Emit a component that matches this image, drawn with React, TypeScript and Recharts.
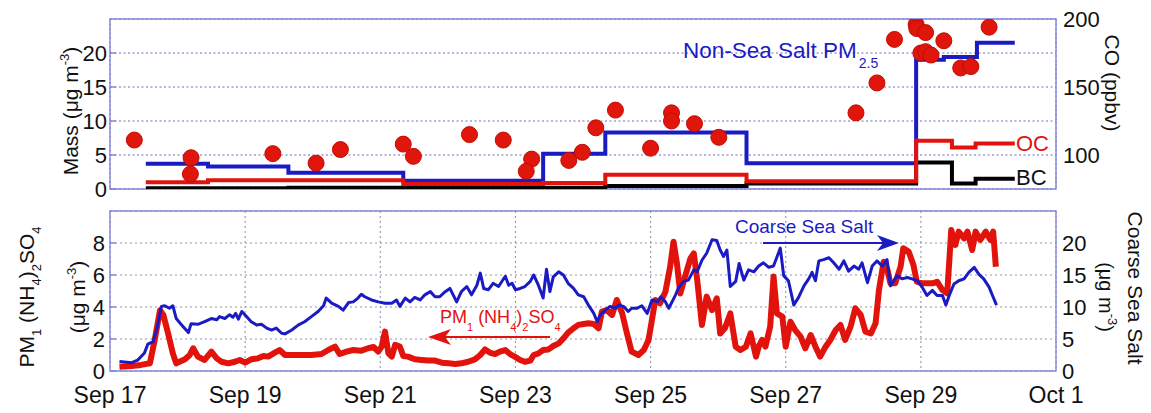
import React from "react";
import {
  ComposedChart,
  Line,
  Scatter,
  XAxis,
  YAxis,
  CartesianGrid,
  ReferenceArea,
} from "recharts";

// ---------- DATA (x = days since Sep 17 00:00) ----------
const dayTicksTop = [0, 1, 2, 3, 4, 5, 6, 7, 8, 9, 10, 11, 12, 13, 14];
const dayTicksBottom = [0, 2, 4, 6, 8, 10, 12, 14];
const bottomTickLabels = ["Sep 17", "Sep 19", "Sep 21", "Sep 23", "Sep 25", "Sep 27", "Sep 29", "Oct 1"];
const massTicks = [0, 5, 10, 15, 20];
const coTicks = [100, 150, 200];
const sulfTicks = [0, 2, 4, 6, 8];
const seaSaltTicks = [0, 5, 10, 15, 20];

// Non-sea-salt PM2.5 (step, ug m-3)
const nssDays = [0.53, 1.45, 2.64, 4.34, 6.41, 7.33, 9.42, 11.93, 12.34, 12.83, 13.39];
const nssVals = [3.7, 3.3, 2.4, 1.2, 5.2, 8.3, 3.8, 19.0, 19.4, 21.5, 21.5];
// OC (step)
const ocDays = [0.53, 1.45, 4.34, 6.41, 7.33, 9.42, 11.93, 12.46, 12.81, 13.39];
const ocVals = [1.0, 1.3, 0.75, 0.9, 2.1, 1.15, 7.1, 6.1, 6.7, 6.7];
// BC (step)
const bcDays = [0.53, 2.64, 7.33, 9.42, 11.93, 12.46, 12.81, 13.39];
const bcVals = [0.1, 0.2, 0.45, 0.8, 3.9, 0.8, 1.5, 1.5];
// CO dots (ppbv)
const coDays = [0.36, 1.2, 1.19, 2.41, 3.05, 3.41, 4.34, 4.49, 5.32, 5.82, 6.24, 6.16, 6.79, 6.99, 7.19, 7.48, 8.0, 8.31, 8.31, 8.65, 9.01, 11.04, 11.35, 11.61, 11.93, 11.94, 12.07, 12.0, 12.07, 12.15, 12.34, 12.59, 12.74, 13.01];
const coVals = [111, 98, 86, 101, 94, 104, 108, 99, 115, 111, 97, 88, 96, 102, 120, 133, 105, 131, 125, 123, 113, 131, 153, 185, 196, 193, 190, 175, 176, 173.5, 184, 164, 165, 194];

// Coarse sea salt (ug m-3, right axis)
const seaSaltDays = [0.14, 0.32, 0.41, 0.51, 0.56, 0.64, 0.7, 0.76, 0.81, 0.88, 0.93, 0.98, 1.06, 1.16, 1.2, 1.3, 1.4, 1.5, 1.58, 1.62, 1.7, 1.77, 1.82, 1.86, 1.9, 1.95, 2.02, 2.09, 2.17, 2.24, 2.32, 2.39, 2.46, 2.54, 2.59, 2.69, 2.79, 2.88, 2.98, 3.08, 3.16, 3.2, 3.28, 3.38, 3.45, 3.53, 3.6, 3.67, 3.72, 3.77, 3.87, 3.97, 4.07, 4.17, 4.24, 4.29, 4.37, 4.44, 4.51, 4.59, 4.66, 4.74, 4.81, 4.88, 4.96, 5.03, 5.13, 5.2, 5.28, 5.35, 5.43, 5.48, 5.53, 5.6, 5.67, 5.75, 5.85, 5.9, 5.95, 6.0, 6.07, 6.14, 6.22, 6.27, 6.34, 6.41, 6.46, 6.51, 6.56, 6.64, 6.71, 6.78, 6.86, 6.93, 7.01, 7.08, 7.16, 7.21, 7.26, 7.33, 7.4, 7.48, 7.53, 7.6, 7.67, 7.72, 7.8, 7.87, 7.95, 8.02, 8.1, 8.15, 8.22, 8.27, 8.37, 8.41, 8.49, 8.56, 8.64, 8.69, 8.76, 8.83, 8.91, 8.98, 9.03, 9.08, 9.13, 9.18, 9.26, 9.31, 9.38, 9.45, 9.53, 9.6, 9.67, 9.75, 9.82, 9.92, 9.97, 10.04, 10.12, 10.19, 10.27, 10.34, 10.39, 10.44, 10.49, 10.56, 10.64, 10.71, 10.79, 10.86, 10.93, 11.01, 11.08, 11.13, 11.21, 11.28, 11.35, 11.43, 11.5, 11.55, 11.6, 11.65, 11.72, 11.8, 11.87, 11.95, 12.02, 12.09, 12.17, 12.24, 12.32, 12.37, 12.42, 12.49, 12.56, 12.64, 12.71, 12.79, 12.86, 12.93, 13.01, 13.06, 13.12];
const seaSaltVals = [1.5, 1.3, 1.7, 2.8, 4.2, 4.6, 6.9, 10.1, 10.2, 9.8, 10.2, 8.2, 7.2, 6.0, 7.4, 7.3, 7.7, 8.2, 8.0, 8.5, 8.2, 8.8, 8.4, 9.0, 8.1, 9.3, 8.5, 7.7, 7.2, 7.3, 6.7, 6.4, 6.7, 5.9, 5.8, 6.4, 7.2, 7.7, 8.5, 9.3, 10.2, 11.4, 10.6, 10.1, 9.5, 10.7, 10.8, 11.4, 12.0, 11.6, 11.1, 10.8, 10.6, 10.6, 11.1, 10.1, 11.4, 10.8, 11.5, 11.1, 11.9, 12.4, 11.6, 11.6, 12.4, 12.9, 10.8, 12.4, 13.2, 11.9, 13.4, 15.3, 12.9, 12.7, 13.7, 13.2, 14.8, 13.4, 13.7, 12.7, 12.9, 13.2, 14.0, 15.0, 13.4, 11.4, 15.9, 12.4, 14.7, 15.5, 15.0, 13.7, 12.9, 11.9, 11.6, 10.3, 9.0, 7.7, 8.8, 9.5, 10.1, 9.8, 10.3, 10.1, 9.3, 9.8, 9.8, 10.2, 9.0, 11.1, 10.8, 11.6, 10.8, 9.8, 11.9, 12.9, 14.0, 14.2, 15.8, 15.5, 17.3, 18.4, 20.5, 20.4, 18.9, 17.9, 18.9, 13.2, 14.0, 16.8, 14.2, 15.8, 15.5, 16.4, 16.9, 16.2, 16.4, 19.2, 14.9, 14.1, 10.3, 11.5, 13.3, 14.4, 15.4, 14.1, 17.2, 17.4, 17.7, 16.9, 15.9, 17.2, 15.6, 16.4, 15.9, 16.9, 13.8, 16.4, 17.2, 16.4, 17.4, 13.3, 14.1, 14.9, 14.4, 14.6, 14.4, 14.1, 13.1, 11.8, 12.6, 11.8, 11.8, 10.3, 11.8, 13.6, 14.1, 14.4, 15.4, 16.2, 15.1, 14.4, 13.1, 11.8, 10.3];

// PM1 (NH4)2SO4 (ug m-3, left axis)
const sulfDays = [0.14, 0.32, 0.46, 0.59, 0.66, 0.74, 0.79, 0.86, 0.93, 0.98, 1.11, 1.18, 1.23, 1.3, 1.4, 1.5, 1.58, 1.65, 1.75, 1.85, 1.92, 2.0, 2.09, 2.19, 2.27, 2.34, 2.44, 2.51, 2.59, 2.69, 2.98, 3.13, 3.23, 3.33, 3.4, 3.5, 3.6, 3.72, 3.82, 3.9, 3.97, 4.02, 4.07, 4.12, 4.17, 4.22, 4.29, 4.34, 4.41, 4.51, 4.61, 4.71, 4.81, 4.91, 5.01, 5.11, 5.2, 5.3, 5.4, 5.48, 5.55, 5.62, 5.7, 5.77, 5.85, 5.92, 5.99, 6.07, 6.14, 6.22, 6.27, 6.34, 6.41, 6.49, 6.56, 6.64, 6.71, 6.78, 6.86, 6.93, 7.01, 7.08, 7.16, 7.23, 7.28, 7.35, 7.43, 7.5, 7.58, 7.65, 7.72, 7.82, 7.9, 7.97, 8.02, 8.07, 8.14, 8.22, 8.29, 8.34, 8.39, 8.44, 8.51, 8.59, 8.64, 8.69, 8.76, 8.83, 8.91, 8.98, 9.03, 9.1, 9.18, 9.26, 9.33, 9.41, 9.48, 9.56, 9.6, 9.65, 9.7, 9.77, 9.82, 9.87, 9.95, 10.0, 10.07, 10.14, 10.22, 10.29, 10.37, 10.44, 10.51, 10.59, 10.66, 10.74, 10.81, 10.88, 10.96, 11.03, 11.11, 11.18, 11.26, 11.33, 11.38, 11.45, 11.5, 11.55, 11.62, 11.7, 11.74, 11.82, 11.89, 11.94, 12.02, 12.09, 12.17, 12.24, 12.32, 12.39, 12.45, 12.51, 12.56, 12.64, 12.69, 12.76, 12.81, 12.88, 12.96, 13.03, 13.07, 13.11];
const sulfVals = [0.27, 0.31, 0.38, 0.48, 1.9, 3.8, 3.5, 2.35, 1.1, 0.48, 0.73, 1.0, 1.42, 0.9, 0.69, 1.21, 0.79, 0.58, 0.48, 0.58, 0.69, 0.52, 0.73, 0.79, 0.94, 0.9, 1.15, 1.31, 1.0, 1.0, 1.0, 1.06, 1.31, 1.52, 1.06, 1.21, 1.31, 1.27, 1.42, 1.5, 1.21, 1.52, 2.46, 1.1, 0.9, 1.63, 1.52, 0.94, 0.9, 0.73, 0.69, 0.65, 0.65, 0.52, 0.48, 0.44, 0.48, 0.58, 0.73, 1.0, 1.35, 1.15, 1.06, 1.21, 1.31, 1.06, 0.9, 0.69, 0.58, 0.65, 1.0, 1.1, 1.31, 1.35, 1.56, 1.73, 2.04, 2.4, 2.67, 2.88, 2.94, 2.98, 2.94, 2.67, 3.71, 3.81, 3.5, 4.44, 3.6, 2.35, 1.21, 1.0, 1.31, 1.94, 3.19, 4.44, 4.23, 4.96, 6.52, 8.08, 6.73, 4.85, 5.9, 7.04, 7.35, 5.69, 2.88, 4.65, 3.81, 4.54, 2.35, 2.67, 3.6, 1.52, 1.31, 1.52, 2.35, 0.9, 1.52, 1.94, 1.52, 2.77, 5.9, 3.6, 3.4, 1.52, 3.08, 2.56, 2.15, 1.42, 2.25, 1.52, 0.9, 1.52, 1.94, 2.56, 2.88, 1.94, 2.77, 3.92, 3.5, 2.46, 2.35, 2.98, 5.06, 6.83, 6.42, 5.48, 5.48, 6.52, 7.67, 7.46, 6.63, 5.58, 5.48, 5.48, 5.48, 5.58, 5.06, 4.85, 8.81, 7.88, 8.71, 8.29, 8.71, 7.56, 8.71, 8.19, 8.71, 8.19, 8.71, 6.52];

// ---------- build rows ----------
const rows = (days: number[], vals: number[], key = "v") =>
  days.map((d, i) => ({ d, [key]: vals[i] }));
const nssData = rows(nssDays, nssVals);
const ocData = rows(ocDays, ocVals);
const bcData = rows(bcDays, bcVals);
const coData = rows(coDays, coVals, "co");
const seaSaltData = rows(seaSaltDays, seaSaltVals);
const sulfData = rows(sulfDays, sulfVals);

// ---------- styles ----------
const FONT = "'Liberation Sans', Arial, Helvetica, sans-serif";
const NARROW = "'Liberation Sans Narrow', 'Arial Narrow', 'Liberation Sans', Arial, sans-serif";
const BLUE = "#1b1bc4";
const RED = "#e2130d";
const GRID_TOP = "#6c6cb4";
const GRID_BOTTOM = "#9696ac";
const FRAME = "#8585dc";
const tickStyle = { fontSize: 22, fill: "#111", fontFamily: FONT };

const Dot = (props: any) => {
  const { cx, cy } = props;
  if (cx == null || cy == null) return null;
  return <circle cx={cx} cy={cy} r={8} fill="#e0160c" stroke="#c00d05" strokeWidth={1} />;
};

function TopChart() {
  return (
    <ComposedChart width={1151} height={206} margin={{ top: 19, right: 35, bottom: 0, left: 50 }}>
      <CartesianGrid yAxisId="mass" stroke={GRID_TOP} strokeDasharray="2 2.5" strokeWidth={1} />
      <XAxis
        dataKey="d"
        type="number"
        domain={[0, 14]}
        ticks={dayTicksTop}
        interval={0}
        allowDataOverflow
        tick={false}
        tickLine={false}
        axisLine={false}
        height={17}
      />
      <YAxis
        yAxisId="mass"
        domain={[0, 25]}
        ticks={massTicks}
        interval={0}
        allowDataOverflow
        width={60}
        tickSize={-6}
        tickMargin={9}
        axisLine={false}
        tickLine={{ stroke: FRAME, strokeWidth: 1.5 }}
        tick={tickStyle}
      />
      <YAxis
        yAxisId="co"
        orientation="right"
        domain={[75, 200]}
        ticks={coTicks}
        interval={0}
        allowDataOverflow
        width={60}
        tickSize={0}
        tickMargin={7}
        axisLine={false}
        tickLine={false}
        tick={tickStyle}
      />
      <ReferenceArea yAxisId="mass" x1={0} x2={14} y1={0} y2={25} fill="none" stroke={FRAME} strokeWidth={1.4} ifOverflow="visible" />
      <Line yAxisId="mass" data={nssData} dataKey="v" type="stepAfter" stroke={BLUE} strokeWidth={4} dot={false} isAnimationActive={false} />
      <Line yAxisId="mass" data={bcData} dataKey="v" type="stepAfter" stroke="#000" strokeWidth={4} dot={false} isAnimationActive={false} />
      <Line yAxisId="mass" data={ocData} dataKey="v" type="stepAfter" stroke={RED} strokeWidth={4} dot={false} isAnimationActive={false} />
      <Scatter yAxisId="co" data={coData} dataKey="co" shape={Dot} isAnimationActive={false} />
    </ComposedChart>
  );
}

function BottomChart() {
  return (
    <ComposedChart width={1151} height={213} margin={{ top: 11, right: 35, bottom: 0, left: 50 }}>
      <CartesianGrid yAxisId="sulf" stroke={GRID_BOTTOM} strokeDasharray="2 3" strokeWidth={1.1} />
      <XAxis
        dataKey="d"
        type="number"
        domain={[0, 14]}
        ticks={dayTicksBottom}
        interval={0}
        allowDataOverflow
        tickFormatter={(v: number) => bottomTickLabels[dayTicksBottom.indexOf(v)]}
        tickSize={0}
        tickMargin={16}
        tickLine={false}
        axisLine={false}
        tick={{ ...tickStyle, fontSize: 23 }}
        height={42}
      />
      <YAxis
        yAxisId="sulf"
        domain={[0, 10]}
        ticks={sulfTicks}
        interval={0}
        allowDataOverflow
        width={60}
        tickSize={-6}
        tickMargin={11}
        axisLine={false}
        tickLine={{ stroke: FRAME, strokeWidth: 1.5 }}
        tick={tickStyle}
      />
      <YAxis
        yAxisId="salt"
        orientation="right"
        domain={[0, 25]}
        ticks={seaSaltTicks}
        interval={0}
        allowDataOverflow
        width={60}
        tickSize={0}
        tickMargin={6}
        axisLine={false}
        tickLine={false}
        tick={tickStyle}
      />
      <ReferenceArea yAxisId="sulf" x1={0} x2={14} y1={0} y2={10} fill="none" stroke={FRAME} strokeWidth={1.4} ifOverflow="visible" />
      <Line yAxisId="sulf" data={sulfData} dataKey="v" type="linear" stroke={RED} strokeWidth={6} strokeLinejoin="round" dot={false} isAnimationActive={false} />
      <Line yAxisId="salt" data={seaSaltData} dataKey="v" type="linear" stroke={BLUE} strokeWidth={3} strokeLinejoin="round" dot={false} isAnimationActive={false} />
    </ComposedChart>
  );
}

function Overlay() {
  return (
    <svg width={1151} height={413} style={{ position: "absolute", left: 0, top: 0, pointerEvents: "none" }} fontFamily={FONT}>
      {/* top panel titles */}
      <text transform="translate(78,111) rotate(-90)" textAnchor="middle" fontSize={21} fill="#111">
        Mass (μg m<tspan dy={-9} fontSize={13}>-3</tspan><tspan dy={9}>)</tspan>
      </text>
      <text transform="translate(1105,83) rotate(90)" textAnchor="middle" fontSize={21} fill="#111">
        CO (ppbv)
      </text>
      <text x={683} y={58} fontSize={22.5} fill={BLUE}>
        Non-Sea Salt PM<tspan dx={2} dy={10} fontSize={14}>2.5</tspan>
      </text>
      <text x={1016} y={151} fontSize={22} fill={RED}>OC</text>
      <text x={1016} y={185} fontSize={22} fill="#111">BC</text>

      {/* bottom panel titles */}
      <text transform="translate(34,297) rotate(-90)" textAnchor="middle" fontSize={21} fill="#111">
        PM<tspan dy={7} fontSize={13}>1</tspan>
        <tspan dy={-7}> (NH</tspan><tspan dy={7} fontSize={13}>4</tspan>
        <tspan dy={-7}>)</tspan><tspan dy={7} fontSize={13}>2</tspan>
        <tspan dy={-7}>SO</tspan><tspan dy={7} fontSize={13}>4</tspan>
      </text>
      <text transform="translate(85,297) rotate(-90)" textAnchor="middle" fontSize={21} fill="#111">
        (μg m<tspan dy={-9} fontSize={13}>-3</tspan><tspan dy={9}>)</tspan>
      </text>
      <text transform="translate(1128,288) rotate(90)" textAnchor="middle" fontSize={21} fill="#111">
        Coarse Sea Salt
      </text>
      <text transform="translate(1099,297) rotate(90)" textAnchor="middle" fontSize={20} fill="#111">
        (μg m<tspan dy={-9} fontSize={13}>-3</tspan><tspan dy={9}>)</tspan>
      </text>

      {/* annotations bottom */}
      <text x={735} y={233} fontSize={19} fontFamily={NARROW} fill={BLUE}>Coarse Sea Salt</text>
      <line x1={763} y1={243} x2={886} y2={243} stroke={BLUE} strokeWidth={2} />
      <polygon points="899,243 877,235 883,243 877,251" fill={BLUE} />

      <text x={440} y={323} fontSize={18} fontFamily={NARROW} fill={RED}>
        PM<tspan dy={8} fontSize={11}>1</tspan>
        <tspan dy={-8}> (NH</tspan><tspan dy={8} fontSize={11}>4</tspan>
        <tspan dy={-8}>)</tspan><tspan dy={8} fontSize={11}>2</tspan>
        <tspan dy={-8}>SO</tspan><tspan dy={8} fontSize={11}>4</tspan>
      </text>
      <line x1={550} y1={337} x2={440} y2={337} stroke={RED} strokeWidth={2} />
      <polygon points="428,337 451,329 445,337 451,345" fill={RED} />
    </svg>
  );
}

export default function App() {
  return (
    <div style={{ position: "absolute", left: 0, top: 0, width: 1151, height: 413, background: "#fff", fontFamily: FONT }}>
      <div style={{ position: "absolute", left: 0, top: 0 }}>
        <TopChart />
      </div>
      <div style={{ position: "absolute", left: 0, top: 200 }}>
        <BottomChart />
      </div>
      <Overlay />
    </div>
  );
}
